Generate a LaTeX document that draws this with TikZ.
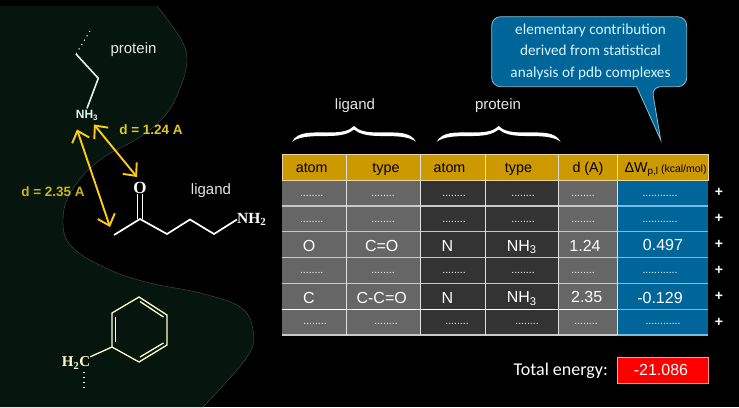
\documentclass[tikz,border=0pt]{standalone}
\usepackage{fontspec}
\setmainfont{Liberation Sans}
\newfontfamily\serifb[Scale=1]{Liberation Serif}
\newfontfamily\comic{Carlito}
\usetikzlibrary{arrows.meta}
\definecolor{bgdark}{HTML}{06160F}
\definecolor{gold}{HTML}{CC9900}
\definecolor{midgray}{HTML}{666666}
\definecolor{darkgray}{HTML}{333333}
\definecolor{cellblue}{HTML}{006699}
\definecolor{lineblue}{HTML}{77BBE8}
\definecolor{linegray}{HTML}{C8C8C8}
\definecolor{arrowy}{HTML}{FFCC11}
\definecolor{laby}{HTML}{E0C820}
\definecolor{protcol}{HTML}{DDF4F0}
\definecolor{benzcol}{HTML}{FFFFCC}
\newcommand{\fs}[1]{\fontsize{#1}{#1}\selectfont}
\newcommand{\dd}{........}
\newcommand{\ddd}{............}
\newcommand{\regioncurve}{(157,6) (170,23) (183,43) (187,60) (182,83) (167,113) (140,137) (100,160) (72,190) (63,220) (72,247) (110,270) (150,283) (200,293) (240,307) (253,330) (247,357) (203,407)}
\tikzset{
 plain/.style={inner sep=0pt,text=white,anchor=base},
 hdr/.style={plain,text=black,font=\fs{14.3}},
 body/.style={plain,font=\fs{16}},
 dots/.style={inner sep=0pt,text=white,font=\fs{10.5}},
 lab/.style={plain,font=\fs{15},text=white!90!black},
 dist/.style={inner sep=0pt,font=\bfseries\fs{13.5},text=laby},
 bond/.style={line width=1.7pt,white,line join=miter},
 pbond/.style={line width=1.6pt,protcol},
 bbond/.style={line width=1.3pt,benzcol},
 darrow/.style={line width=1.9pt,arrowy,{Straight Barb[length=10pt,width=18pt,line width=1.9pt]}-{Straight Barb[length=10pt,width=18pt,line width=1.9pt]}},
 dotted chain/.style={line width=1.1pt,dash pattern=on 1.1pt off 4pt},
 callout text/.style={plain,text=white!85!cyan,font=\comic\fs{15.2}},
}
\begin{document}
\begin{tikzpicture}[x=1pt,y=-1pt]
\useasboundingbox (0,0) rectangle (739,407);
\fill[black] (0,0) rectangle (739,407);
% protein region
\fill[bgdark] (0,6) -- plot[smooth,tension=.65] coordinates {\regioncurve} -- (0,407) -- cycle;
\draw[white!25!bgdark,line width=.4pt] plot[smooth,tension=.65] coordinates {\regioncurve};
% table fills
\foreach \xa/\xb/\col in {282/346.7/midgray,346.7/420.7/midgray,420.7/485/darkgray,485/558.7/darkgray,558.7/617.3/midgray,617.3/708.3/cellblue}
  \fill[\col] (\xa,180) rectangle (\xb,335);
\fill[gold] (282,154.3) rectangle (708.3,180);
% table rules
\foreach \y/\c in {206/linegray,231.7/linegray,257.7/linegray,283.3/linegray,309.3/white,335/linegray}{
  \draw[\c,line width=1.2pt] (282,\y) -- (617.3,\y);
  \draw[lineblue,line width=1.2pt] (617.3,\y) -- (708.3,\y);}
\foreach \x in {346.7,420.7,485,558.7,617.3}
  \draw[white!88!black,line width=1pt] (\x,154.3) -- (\x,335);
\draw[gold!40!white,line width=1pt] (282,154.3) rectangle (708.3,180);
\draw[white!60!gold,line width=.8pt] (282,180) -- (708.3,180);
% header
\node[hdr] (h1) at (311.7,172) {atom};
\node[hdr] (h2) at (386,172) {type};
\node[hdr] (h3) at (449.5,172) {atom};
\node[hdr] (h4) at (518.5,172) {type};
\node[hdr] (h5) at (588,172) {d (A)};
\node[hdr] (h6) at (665.5,172) {ΔW\textsubscript{p,l}\,\fs{10.5}(kcal/mol)};
% dotted rows
\foreach \r/\y/\ax/\bx/\cx/\dx/\ex/\fx in {1/196/311.7/383/454/523/583/660,2/222/311.7/383/454/523/583/660,4/273/311.7/383/454/523/583/660,6/324/315/386/457/527/586/663}{
 \node[dots] (r\r a) at (\ax,\y) {\dd};
 \node[dots] (r\r b) at (\bx,\y) {\dd};
 \node[dots] (r\r c) at (\cx,\y) {\dd};
 \node[dots] (r\r d) at (\dx,\y) {\dd};
 \node[dots] (r\r e) at (\ex,\y) {\dd};
 \node[dots] (r\r f) at (\fx,\y) {\ddd};
}
% values
\node[body] (r3a) at (309,251.5) {O};
\node[body] (r3b) at (381.7,251.5) {C=O};
\node[body] (r3c) at (447.5,251.5) {N};
\node[body] (r3d) at (521.7,251) {NH\textsubscript{3}};
\node[body] (r3e) at (585,251.5) {1.24};
\node[body] (r3f) at (663,250.7) {0.497};
\node[body] (r5a) at (309,303) {C};
\node[body] (r5b) at (381.7,303) {C-C=O};
\node[body] (r5c) at (447.5,303) {N};
\node[body] (r5d) at (521.7,302.7) {NH\textsubscript{3}};
\node[body] (r5e) at (586.7,302.3) {2.35};
\node[body] (r5f) at (660,303.3) {-0.129};
% plus signs
\foreach \n/\y in {1/192,2/218,3/244,4/270,5/296,6/322}
  \node[inner sep=0pt,text=white,font=\bfseries\fs{14}] (plus\n) at (719,\y) {+};
% column group labels
\node[lab] (lg) at (355,109) {ligand};
\node[lab] (pt) at (498,109) {protein};
% braces
\foreach \dx in {0,144.7}{
 \begin{scope}[xshift=\dx]
 \fill[white] (292,141.7) .. controls (298,131) and (312,132.5) .. (328,132.5)
   .. controls (342,132.5) and (349,131) .. (354,126)
   .. controls (359,131) and (366,132.5) .. (380,132.5)
   .. controls (396,132.5) and (410,131) .. (416,141.7)
   .. controls (408,136) and (395,136) .. (380,136)
   .. controls (366,136) and (359,133.5) .. (354,129.5)
   .. controls (349,133.5) and (342,136) .. (328,136)
   .. controls (313,136) and (300,136) .. (292,141.7) -- cycle;
 \end{scope}}
% callout
\filldraw[fill=cellblue,draw=white!55!cellblue,line width=.8pt,rounded corners=9pt]
 (491.7,16.7) -- (686.7,16.7) -- (686.7,86.7) -- (651.7,86.7)
 [sharp corners] -- (660.7,140) -- (636.7,86.7) [rounded corners=9pt] -- (491.7,86.7) -- cycle;
\node[callout text] (c1) at (590.5,34) {elementary contribution};
\node[callout text] (c2) at (590.5,55.7) {derived from statistical};
\node[callout text] (c3) at (590.5,77.3) {analysis of pdb complexes};
% total
\node[inner sep=0pt,text=white,font=\comic\fs{18},anchor=base east] (tot) at (608,375) {Total energy:};
\node[draw=white!60!red,fill=red,line width=.7pt,minimum width=90.5pt,minimum height=26pt,inner sep=0pt] (valbox) at (662.7,370.3) {};
\node[plain,font=\fs{16}] (val) at (661,375.6) {-21.086};
% protein fragment
\node[lab] (plab) at (133.5,53) {protein};
\node[inner sep=0pt,outer sep=2pt,text=protcol,font=\bfseries\fs{12}] (nh3) at (87,115.5) {NH\textsubscript{3}};
\coordinate (p0) at (90,31);
\coordinate (p1) at (76,54);
\coordinate (p2) at (98.3,78.3);
\draw[dotted chain,protcol] (p0) -- (p1);
\draw[pbond,line join=miter] (p1) -- (p2) -- (nh3.north);
% ligand
\node[lab] (llab) at (211,194.3) {ligand};
\node[inner sep=0pt,text=white,font=\serifb\bfseries\fs{17}] (oat) at (140,188) {O};
\node[inner sep=0pt,text=white,font=\serifb\bfseries\fs{15.5},anchor=west] (nh2) at (237,219.5) {NH\textsubscript{2}};
\coordinate (l0) at (114,235);
\coordinate (l1) at (140,219);
\coordinate (l2) at (167,234);
\coordinate (l3) at (190,219.5);
\coordinate (l4) at (214,234);
\draw[bond] (l0) -- (l1) -- (l2) -- (l3) -- (l4) -- (nh2.west);
\draw[line width=1.4pt,white] ([xshift=-2.6pt]oat.south) -- ([xshift=-2.6pt]l1);
\draw[line width=1.4pt,white] ([xshift=2.6pt]oat.south) -- ([xshift=2.6pt]l1);
% distance arrows
\coordinate (a1s) at (94,124.5);
\coordinate (a1e) at (137,177);
\coordinate (a2s) at (77,129.5);
\coordinate (a2e) at (110,227);
\draw[darrow] (a1s) -- (a1e);
\draw[darrow] (a2s) -- (a2e);
\node[dist] (d1) at (151,130) {d = 1.24 A};
\node[dist,text=laby!90!black] (d2) at (53,192) {d = 2.35 A};
% benzene
\coordinate (b1) at (139,297);
\coordinate (b2) at (167,315);
\coordinate (b3) at (167,345);
\coordinate (b4) at (139,362);
\coordinate (b5) at (112,347);
\coordinate (b6) at (112,313);
\draw[bbond,line join=miter] (b1) -- (b2) -- (b3) -- (b4) -- (b5) -- (b6) -- cycle;
\coordinate (i1) at (115.5,317);
\coordinate (i2) at (115.5,342);
\coordinate (i3) at (140,301.5);
\coordinate (i4) at (163.5,317);
\coordinate (i5) at (140,357);
\coordinate (i6) at (163.5,343);
\draw[bbond] (i1) -- (i2);
\draw[bbond] (i3) -- (i4);
\draw[bbond] (i5) -- (i6);
\node[inner sep=0pt,text=benzcol,font=\serifb\bfseries\fs{15}] (ch2) at (76,363) {H\textsubscript{2}C};
\draw[bbond] (b5) -- (ch2.north east);
\coordinate (dotstart) at (84,372);
\coordinate (dotend) at (84,390);
\draw[dotted chain,benzcol] (dotstart) -- (dotend);
\end{tikzpicture}
\end{document}
